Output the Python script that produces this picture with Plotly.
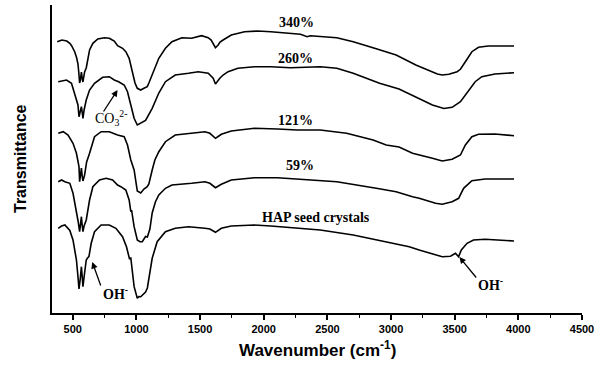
import plotly.graph_objects as go

# FTIR spectra (wavenumber in cm^-1, transmittance in arbitrary offset units)
wn_340 = [378, 415, 453, 477, 492, 516, 531, 541, 547, 554, 560, 568, 574, 580, 585, 593, 606, 619, 632, 658,
          697, 749, 787, 811, 826, 852, 865, 891, 917, 943, 968, 989, 1007, 1034, 1059, 1085, 1098, 1124, 1145,
          1176, 1228, 1279, 1357, 1434, 1512, 1564, 1587, 1603, 1621, 1642, 1657, 1681, 1745, 1849, 1952, 2056,
          2211, 2289, 2341, 2366, 2574, 2703, 2884, 3040, 3195, 3298, 3364, 3402, 3454, 3519, 3545, 3584, 3635,
          3687, 3764, 3869, 3966]
tr_340 = [271.3, 273, 272, 269.7, 267, 261, 255, 249, 241, 230, 233, 241, 235, 231, 235, 241, 245, 256, 263, 269.7,
          274, 275.3, 274.7, 273, 272, 267.3, 266.3, 264.7, 261.3, 254.7, 241.3, 230, 224.7, 223, 224.7, 226.3, 230,
          238, 246, 254.7, 264.7, 271.3, 275.3, 274.7, 277.3, 275.3, 273, 269.7, 265.3, 268, 271, 273, 278, 281.3,
          282, 281.3, 279.7, 278.7, 276.3, 277.3, 275.3, 271.3, 264.3, 258, 248, 243, 239, 238, 238.7, 241.3, 243.7,
          251.3, 261.3, 265.7, 267, 267, 267]

wn_260 = [386, 451, 490, 516, 541, 549, 560, 568, 574, 580, 589, 606, 632, 671, 735, 787, 826, 860, 904, 930, 956,
          982, 1007, 1034, 1072, 1124, 1176, 1228, 1305, 1409, 1486, 1564, 1587, 1603, 1621, 1642, 1655, 1681,
          1720, 1797, 1927, 2056, 2211, 2444, 2574, 2703, 2910, 3063, 3195, 3325, 3415, 3480, 3545, 3609, 3661,
          3713, 3816, 3966]
tr_260 = [231.3, 233, 229.7, 219.7, 208, 196.3, 203, 206.3, 201, 194.7, 203, 213, 223, 229.7, 235.7, 236.3, 233,
          231.3, 228, 221.3, 208, 194.7, 188, 189.7, 192.5, 204.7, 220, 231.3, 238, 239.7, 241.3, 239.7, 237, 234.7,
          229, 233, 234.7, 238, 241.3, 244.7, 246.3, 246.3, 245.3, 246.3, 244.7, 239.7, 229.7, 224, 216.3, 208,
          204.5, 205.7, 211.3, 223, 231.3, 236.3, 239, 240.3]

wn_121 = [386, 425, 463, 502, 529, 549, 554, 562, 568, 574, 580, 593, 609, 632, 671, 723, 787, 852, 904, 930, 956,
          982, 993, 1007, 1034, 1059, 1083, 1098, 1124, 1145, 1176, 1228, 1305, 1409, 1538, 1577, 1599, 1621, 1642,
          1667, 1745, 1927, 2108, 2263, 2444, 2651, 2859, 2962, 3063, 3169, 3325, 3402, 3480, 3519, 3545, 3584,
          3635, 3687, 3816, 3966]
tr_121 = [179.7, 181.3, 178, 169.7, 159.7, 146.3, 131.3, 141, 145, 137, 132, 138, 151, 159.7, 176.3, 181.3, 181.3,
          178, 176.3, 168, 153, 143, 133, 122, 120, 124, 126, 129, 143, 153, 161.3, 171.3, 178, 179.7, 181.3, 179.7,
          177, 174.7, 176.5, 178.7, 182, 184.7, 184, 183, 183, 179.7, 173, 168, 166, 159.7, 154.7, 152, 153.7,
          156.3, 158, 168, 176.3, 178.7, 179, 177.3]

wn_59 = [386, 412, 438, 477, 502, 529, 543, 554, 561, 568, 574, 580, 589, 606, 632, 658, 710, 762, 813, 852, 878,
         917, 943, 950, 956, 962, 982, 1007, 1028, 1046, 1072, 1086, 1106, 1124, 1149, 1176, 1228, 1279, 1357,
         1434, 1538, 1577, 1621, 1667, 1745, 1927, 2108, 2263, 2341, 2574, 2884, 3040, 3169, 3221, 3350, 3402,
         3480, 3531, 3570, 3635, 3739, 3966]
tr_59 = [131.3, 133, 131.3, 129.7, 119.7, 103, 91, 81.3, 89, 96.3, 88, 81.3, 87, 93, 113, 126.3, 133, 134.7, 133,
         128, 126.3, 123, 113, 105, 101.3, 103, 86.3, 73, 71.3, 71.3, 76.5, 76, 84, 100, 111, 118, 124.7, 128,
         128.7, 129.7, 131.3, 129.7, 125.3, 128.7, 133, 135.3, 135.3, 134, 133, 131.3, 124.7, 121.3, 116.3, 114.7,
         109.7, 108.8, 111.3, 114.7, 124.7, 132.3, 134, 134]

wn_hap = [386, 412, 438, 477, 502, 529, 541, 549, 558, 568, 574, 580, 591, 606, 616, 627, 645, 671, 723, 787, 839,
          891, 922, 937, 945, 956, 982, 1007, 1020, 1034, 1052, 1072, 1086, 1098, 1124, 1163, 1228, 1305, 1409,
          1538, 1577, 1621, 1667, 1745, 1927, 2056, 2263, 2444, 2703, 2962, 3143, 3221, 3350, 3402, 3467, 3506,
          3531, 3552, 3597, 3648, 3739, 3966]
tr_hap = [84.7, 87, 88, 82.5, 73, 53, 36.3, 24, 33, 46.3, 37, 26.3, 38, 53, 55, 56.3, 69.7, 81.3, 88, 88, 84.7,
          76.3, 66.3, 59, 54.5, 55, 26.3, 14.7, 16.5, 16.3, 19, 21, 25, 34.7, 54.7, 71.3, 81.3, 84.7, 86.3, 84.7,
          84, 80.7, 84.7, 87, 88, 87, 84.7, 83, 78, 71.3, 66.3, 63, 58, 56.3, 56.7, 59.7, 56.3, 63, 69.7, 73, 73.7,
          72]

series = [(wn_340, tr_340), (wn_260, tr_260), (wn_121, tr_121), (wn_59, tr_59), (wn_hap, tr_hap)]

# Curve labels: (text, wavenumber, transmittance)
curve_labels = [("340%", 2255, 291), ("260%", 2248, 255), ("121%", 2248, 193),
                 ("59%", 2286, 148), ("HAP seed crystals", 2411, 95.5)]

x_ticks = [500, 1000, 1500, 2000, 2500, 3000, 3500, 4000, 4500]

fig = go.Figure()
for wn, tr in series:
    fig.add_trace(go.Scatter(x=wn, y=tr, mode="lines",
                             line=dict(color="black", width=1.6), showlegend=False, hoverinfo="skip"))

serif_bold = dict(family="Liberation Serif", size=14, color="black", weight="bold")
for text, xv, yv in curve_labels:
    fig.add_annotation(x=xv, y=yv, text=text, showarrow=False, font=serif_bold)

# Band assignments: arrows pointing at the bands, labels next to the arrow tails
arrow_style = dict(showarrow=True, arrowhead=2, arrowsize=1, arrowwidth=1.3, arrowcolor="black", text="")
fig.add_annotation(x=852, y=223, ax=-15, ay=23, **arrow_style)
fig.add_annotation(x=803, y=195, text="CO<sub>3</sub><sup>2-</sup>", showarrow=False,
                   font=dict(family="Liberation Serif", size=14, color="black"))
fig.add_annotation(x=653, y=51, ax=9, ay=25, **arrow_style)
fig.add_annotation(x=834, y=20, text="OH<sup>-</sup>", showarrow=False, font=serif_bold)
fig.add_annotation(x=3537, y=56, ax=18, ay=22, **arrow_style)
fig.add_annotation(x=3785, y=29, text="OH<sup>-</sup>", showarrow=False, font=serif_bold)

# Axis titles
fig.add_annotation(xref="paper", yref="paper", x=0.5, y=0, yanchor="middle", yshift=-36,
                   text="Wavenumber (cm<sup>-1</sup>)", showarrow=False,
                   font=dict(family="Liberation Sans", size=17, color="black", weight="bold"))
fig.add_annotation(xref="paper", yref="paper", x=0, y=0.5, xanchor="center", xshift=-32, textangle=-90,
                   text="Transmittance", showarrow=False,
                   font=dict(family="Liberation Sans", size=16, color="black", weight="bold"))

fig.update_xaxes(range=[337, 4500], showline=True, linecolor="black", linewidth=2,
                 tickmode="array", tickvals=x_ticks, ticks="outside", ticklen=5, tickwidth=1.5,
                 tickcolor="black", ticklabeloverflow="allow",
                 minor=dict(dtick=250, tick0=250, ticks="outside", ticklen=3, tickwidth=1, tickcolor="black"),
                 tickfont=dict(family="Liberation Sans", size=11, color="black", weight="bold"),
                 showgrid=False, zeroline=False)
fig.update_yaxes(range=[0, 308], showline=True, linecolor="black", linewidth=2,
                 showticklabels=False, ticks="", showgrid=False, zeroline=False)

fig.update_layout(width=599, height=366, margin=dict(l=52, r=11, t=5, b=53),
                  plot_bgcolor="white", paper_bgcolor="white")

fig.write_html("out.html")
